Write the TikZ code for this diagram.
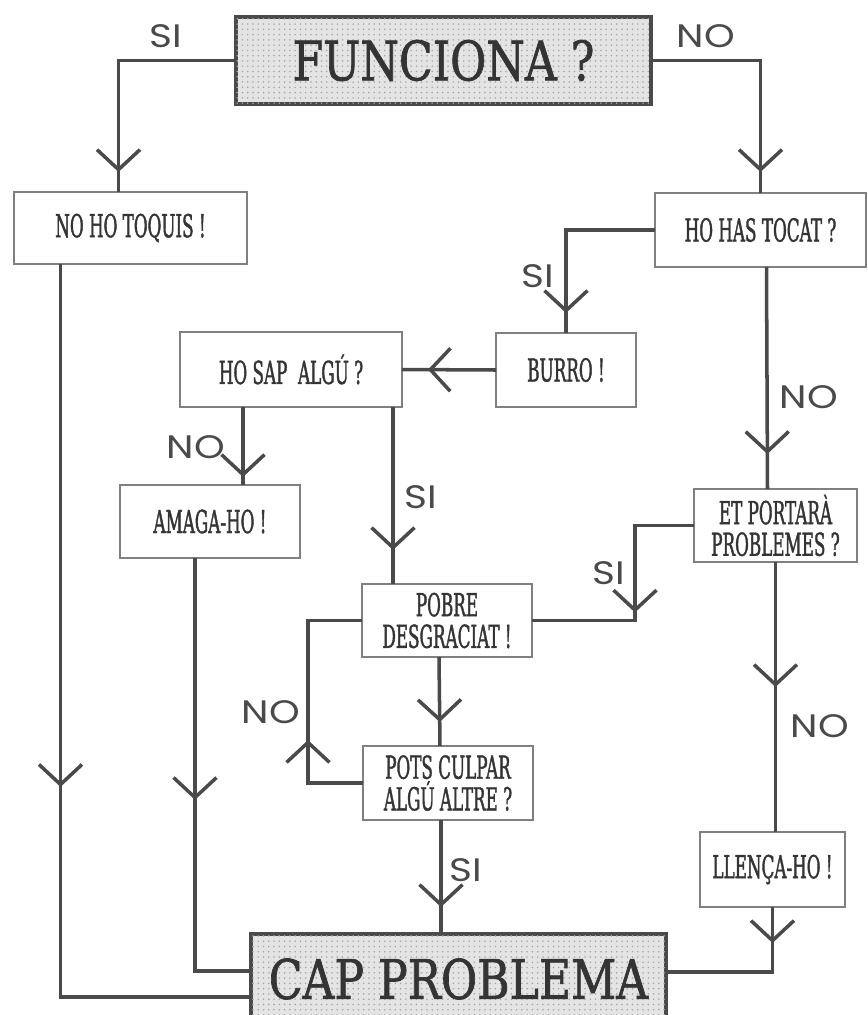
\documentclass[tikz,border=0pt]{standalone}
\usepackage{fontspec}
\newfontfamily\boxfont{DejaVu Serif}[FakeStretch=0.53,FakeBold=1.2]
\newfontfamily\bigfont{DejaVu Serif}[FakeStretch=0.81,FakeBold=1.2]
\newfontfamily\lblfont{Poppins}[FakeStretch=1.2]
\usetikzlibrary{arrows.meta,calc,decorations.markings,patterns}
\definecolor{ink}{HTML}{4A4A4A}
\definecolor{frame}{HTML}{808080}
\definecolor{screen}{HTML}{E4E4E4}

\begin{document}
\begin{tikzpicture}[x=0.02cm,y=-0.02cm,
  box/.style={draw=frame,line width=0.9pt,inner sep=0pt,outer sep=0pt,align=center,
    text=ink!70!black,font=\boxfont\fontsize{18}{18}\selectfont},
  main/.style={box,draw=ink,line width=1.9pt,fill=screen,
    postaction={pattern=dots,pattern color=black!35},
    font=\bigfont\fontsize{31}{31}\selectfont},
  lbl/.style={text=ink,inner sep=0pt,font=\lblfont\fontsize{18.5}{20}\selectfont},
  flow/.style={draw=ink,line width=2pt},
  arrowat/.style={postaction={decorate,decoration={markings,
    mark=at position #1 with {\arrow{Straight Barb[length=4mm,width=8.6mm]}}}}}]
  \useasboundingbox (0,0) rectangle (867,1015);

  \node[main,minimum width=8.3cm,minimum height=1.74cm] (func) at (443.5,60.5) {FUNCIONA ?};
  \node[box,minimum width=4.66cm,minimum height=1.44cm] (noho) at (130.5,228) {NO HO TOQUIS !};
  \node[box,minimum width=4.22cm,minimum height=1.48cm] (tocat) at (760.5,230) {HO HAS TOCAT ?};
  \node[box,minimum width=2.8cm,minimum height=1.48cm] (burro) at (566,370) {BURRO !};
  \node[box,minimum width=4.44cm,minimum height=1.5cm] (hosap) at (291,369.5) {HO SAP\ \ ALGÚ ?};
  \node[box,minimum width=3.6cm,minimum height=1.46cm] (amaga) at (210,521.5) {AMAGA-HO !};
  \node[box,minimum width=3.26cm,minimum height=1.46cm] (portara) at (775.5,525.5) {ET PORTARÀ\\PROBLEMES ?};
  \node[box,minimum width=3.4cm,minimum height=1.46cm] (pobre) at (447,620.5) {POBRE\\DESGRACIAT !};
  \node[box,minimum width=3.4cm,minimum height=1.48cm] (pots) at (448,783) {POTS CULPAR\\ALGÚ ALTRE ?};
  \node[box,minimum width=2.9cm,minimum height=1.5cm] (llenca) at (772.5,869.5) {LLENÇA-HO !};
  \node[main,minimum width=8.3cm,minimum height=1.8cm] (cap) at (458.5,979) {CAP PROBLEMA};

  % first question
  \draw[flow,arrowat=-0.4cm] (func.west) -| ($(noho.north)+(-12,0)$);
  \draw[flow,arrowat=-0.42cm] (func.east) -| (tocat.north);
  % right branch
  \draw[flow,arrowat=-0.4cm] (tocat.west) -| (burro.north);
  \draw[flow,arrowat=-0.52cm] (burro.west) -- (hosap.east);
  \draw[flow,arrowat=-0.7cm] ($(tocat.south)+(6,0)$) -- ($(portara.north)+(-8,0)$);
  \draw[flow,arrowat=-0.16cm] ($(hosap.south)+(-48,0)$) -- ($(amaga.north)+(33,0)$);
  \draw[flow,arrowat=-0.68cm] ($(hosap.south)+(102,0)$) -- ($(pobre.north)+(-54,0)$);
  \draw[flow,arrowat=-2.22cm] (portara.west) -| ($(pobre.east)+(103,0)$) -- (pobre.east);
  \draw[flow,arrowat=-0.48cm] ($(pobre.south)+(-8,0)$) -- ($(pots.north)+(-8,0)$);
  % loop back
  \draw[flow,arrowat=1.96cm] (pots.west) -| ($(pobre.west)+(-54,0)$) -- (pobre.west);
  \draw[flow,arrowat=-0.54cm] ($(pots.south)+(-7,0)$) -- ($(cap.north)+(-17.5,0)$);
  \draw[flow,arrowat=2.5cm] (portara.south) -- (portara.south |- llenca.north);
  % into the end box
  \draw[flow,arrowat=10.46cm] ($(noho.south)+(-70,0)$) |- ($(cap.west)+(0,18)$);
  \draw[flow,arrowat=4.84cm] ($(amaga.south)+(-15,0)$) |- ($(cap.west)+(0,-8)$);
  \draw[flow,arrowat=0.72cm] (llenca.south) |- ($(cap.east)+(0,-7)$);

  \node[lbl] (l1) at (166,36) {SI};
  \node[lbl] (l2) at (706,36) {NO};
  \node[lbl] (l3) at (538,276) {SI};
  \node[lbl] (l4) at (809,397) {NO};
  \node[lbl] (l5) at (196,447) {NO};
  \node[lbl] (l6) at (421,497) {SI};
  \node[lbl] (l7) at (609,573) {SI};
  \node[lbl] (l8) at (271,712) {NO};
  \node[lbl] (l9) at (466,870) {SI};
  \node[lbl] (l10) at (820,726) {NO};
\end{tikzpicture}
\end{document}
